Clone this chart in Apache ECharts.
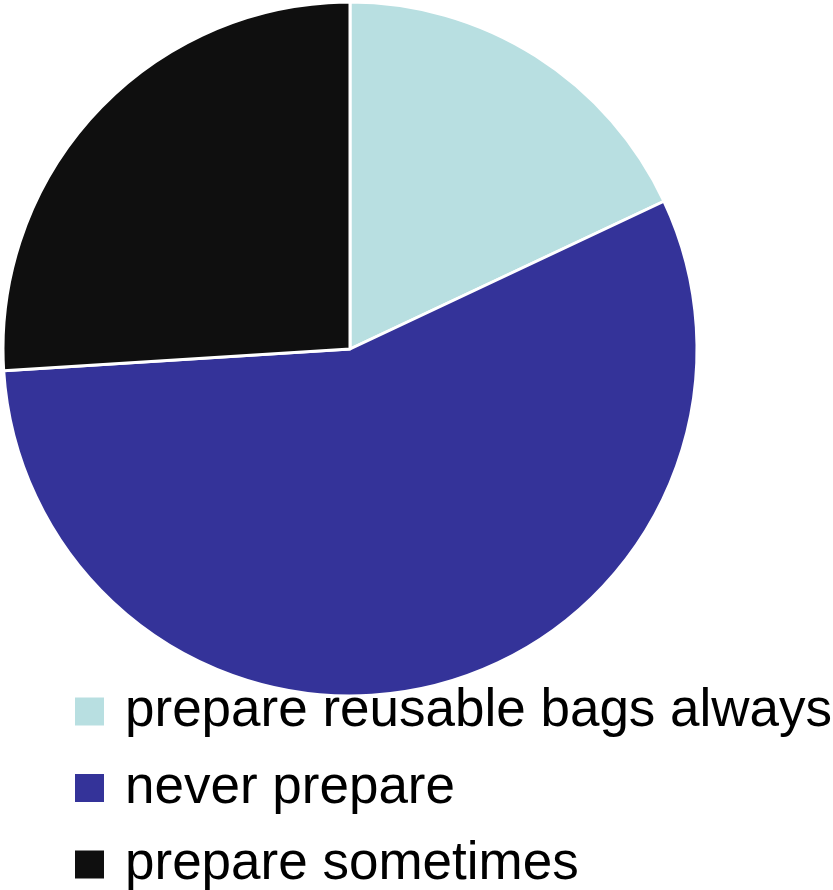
<!DOCTYPE html>
<html>
<head>
<meta charset="utf-8">
<script src="https://cdn.jsdelivr.net/npm/echarts@6/dist/echarts.min.js"></script>
<style>html,body{margin:0;padding:0;background:#fff}#c{width:833px;height:890px}</style>
</head>
<body>
<div id="c"></div>
<script>
var categories = ['prepare reusable bags always', 'never prepare', 'prepare sometimes'];
var values = [18, 56, 26];
var colors = ['#b8dfe1', '#343399', '#0f0f0f'];

var chart = echarts.init(document.getElementById('c'), null, {renderer: 'canvas'});
chart.setOption({
  animation: false,
  color: colors,
  legend: {
    orient: 'vertical',
    left: 73,
    top: 685,
    height: 400,
    padding: 0,
    itemWidth: 31,
    itemHeight: 30,
    itemGap: 23.5,
    icon: 'rect',
    data: categories,
    textStyle: {
      fontFamily: 'Liberation Sans, Arial, sans-serif',
      fontSize: 53,
      lineHeight: 53,
      color: '#000',
      padding: [0, 0, 0, 15]
    }
  },
  series: [{
    type: 'pie',
    center: [350, 349],
    radius: [0, 347],
    startAngle: 90,
    clockwise: true,
    label: {show: false},
    labelLine: {show: false},
    itemStyle: {borderColor: '#fff', borderWidth: 3},
    data: categories.map(function (c, i) { return {name: c, value: values[i]}; })
  }]
});
</script>
</body>
</html>
